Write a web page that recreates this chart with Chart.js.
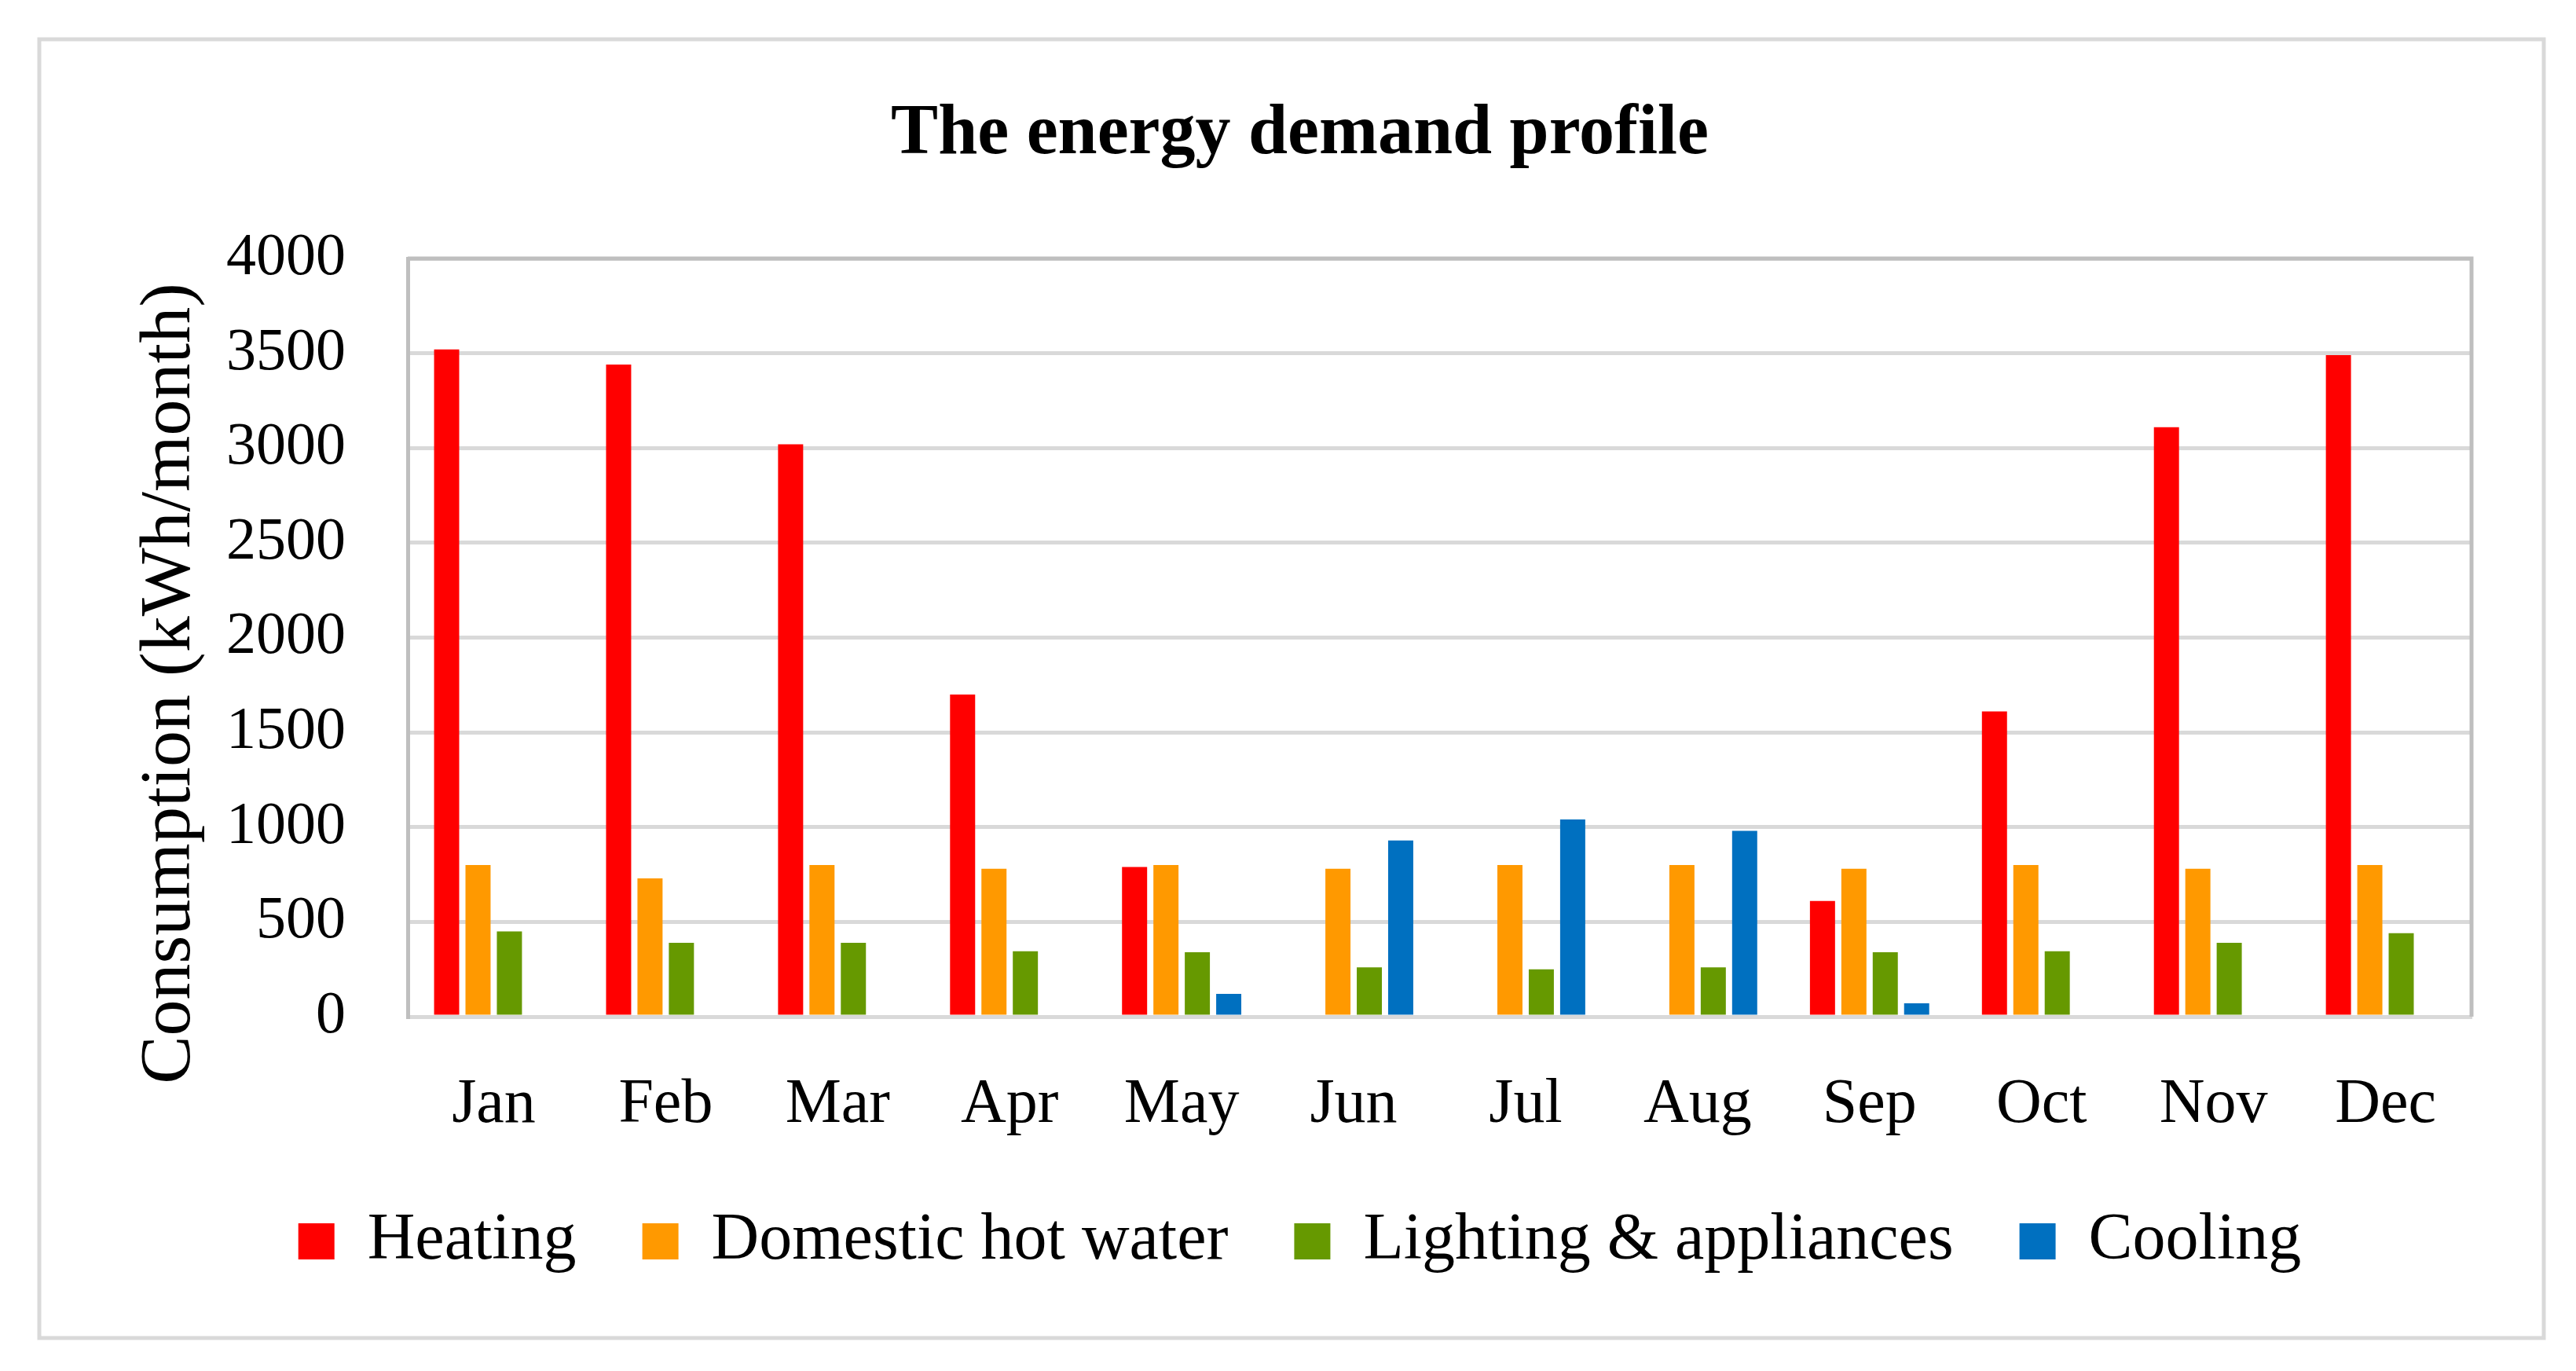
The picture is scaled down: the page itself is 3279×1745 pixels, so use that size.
<!DOCTYPE html>
<html>
<head>
<meta charset="utf-8">
<title>The energy demand profile</title>
<script src="https://cdn.jsdelivr.net/npm/chart.js@4.4.1/dist/chart.umd.min.js"></script>
<style>
  html, body { margin: 0; padding: 0; background: #ffffff; }
  canvas { display: block; }
</style>
</head>
<body>
<canvas id="demandChart" width="3279" height="1745"></canvas>
<script>
  const months = ["Jan", "Feb", "Mar", "Apr", "May", "Jun", "Jul", "Aug", "Sep", "Oct", "Nov", "Dec"];
  const heating = [3520, 3440, 3020, 1700, 790, null, null, null, 610, 1610, 3110, 3490];
  const hotWater = [800, 730, 800, 780, 800, 780, 800, 800, 780, 800, 780, 800];
  const lighting = [450, 390, 390, 345, 340, 260, 250, 260, 340, 345, 390, 440];
  const cooling = [null, null, null, null, 120, 930, 1040, 980, 70, null, null, null];
  const yTicks = [0, 500, 1000, 1500, 2000, 2500, 3000, 3500, 4000];

  const serif = "'Liberation Serif', 'Times New Roman', serif";

  // outer frame, top/right edges of the plot area, rotated axis title
  const framePlugin = {
    id: "frame",
    beforeDraw(chart) {
      const { ctx } = chart;
      ctx.save();
      ctx.strokeStyle = "#d9d9d9";
      ctx.lineWidth = 5;
      ctx.strokeRect(50, 50, 3188, 1653);
      ctx.restore();
    },
    beforeDatasetsDraw(chart) {
      const { ctx, chartArea } = chart;
      ctx.save();
      ctx.strokeStyle = "#bfbfbf";
      ctx.lineWidth = 5;
      ctx.beginPath();
      ctx.moveTo(chartArea.left, chartArea.top);
      ctx.lineTo(chartArea.right, chartArea.top);
      ctx.lineTo(chartArea.right, chartArea.bottom);
      ctx.stroke();
      ctx.restore();
    },
    afterDraw(chart) {
      const { ctx } = chart;
      ctx.save();
      ctx.translate(217, 870);
      ctx.rotate(-Math.PI / 2);
      ctx.font = `92px ${serif}`;
      ctx.fillStyle = "#000000";
      ctx.textAlign = "center";
      ctx.textBaseline = "middle";
      ctx.fillText("Consumption (kWh/month)", 0, 0);
      ctx.restore();
    },
  };

  const dataset = (label, data, color) => ({
    label,
    data,
    backgroundColor: color,
    borderWidth: 0,
    categoryPercentage: 0.73,
    barPercentage: 0.8,
  });

  new Chart(document.getElementById("demandChart"), {
    type: "bar",
    data: {
      labels: months,
      datasets: [
        dataset("Heating", heating, "#ff0000"),
        dataset("Domestic hot water", hotWater, "#ff9900"),
        dataset("Lighting & appliances", lighting, "#669900"),
        dataset("Cooling", cooling, "#0070c0"),
      ],
    },
    options: {
      responsive: false,
      devicePixelRatio: 1,
      animation: false,
      layout: { padding: { left: 163, right: 133, top: 0, bottom: 113 } },
      plugins: {
        title: {
          display: true,
          text: "The energy demand profile",
          color: "#000000",
          font: { family: serif, size: 90, weight: "bold" },
          padding: { top: 118, bottom: 103 },
        },
        legend: {
          position: "bottom",
          labels: {
            color: "#000000",
            font: { family: serif, size: 84 },
            boxWidth: 46,
            boxHeight: 46,
            padding: 84,
          },
        },
        tooltip: { enabled: false },
      },
      scales: {
        x: {
          grid: { display: false, drawTicks: false },
          border: { color: "#d9d9d9", width: 5 },
          ticks: { color: "#000000", font: { family: serif, size: 80 }, padding: 65, maxRotation: 0 },
          afterFit(scale) { scale.height = 160; },
        },
        y: {
          min: 0,
          max: 4000,
          afterBuildTicks(scale) { scale.ticks = yTicks.map((v) => ({ value: v })); },
          grid: { color: "#d9d9d9", lineWidth: 5, drawTicks: false },
          border: { color: "#bfbfbf", width: 5 },
          ticks: {
            color: "#000000",
            font: { family: serif, size: 76 },
            padding: 79,
            callback: (value) => String(value),
          },
          afterFit(scale) { scale.width = 356; },
        },
      },
    },
    plugins: [framePlugin],
  });
</script>
</body>
</html>
